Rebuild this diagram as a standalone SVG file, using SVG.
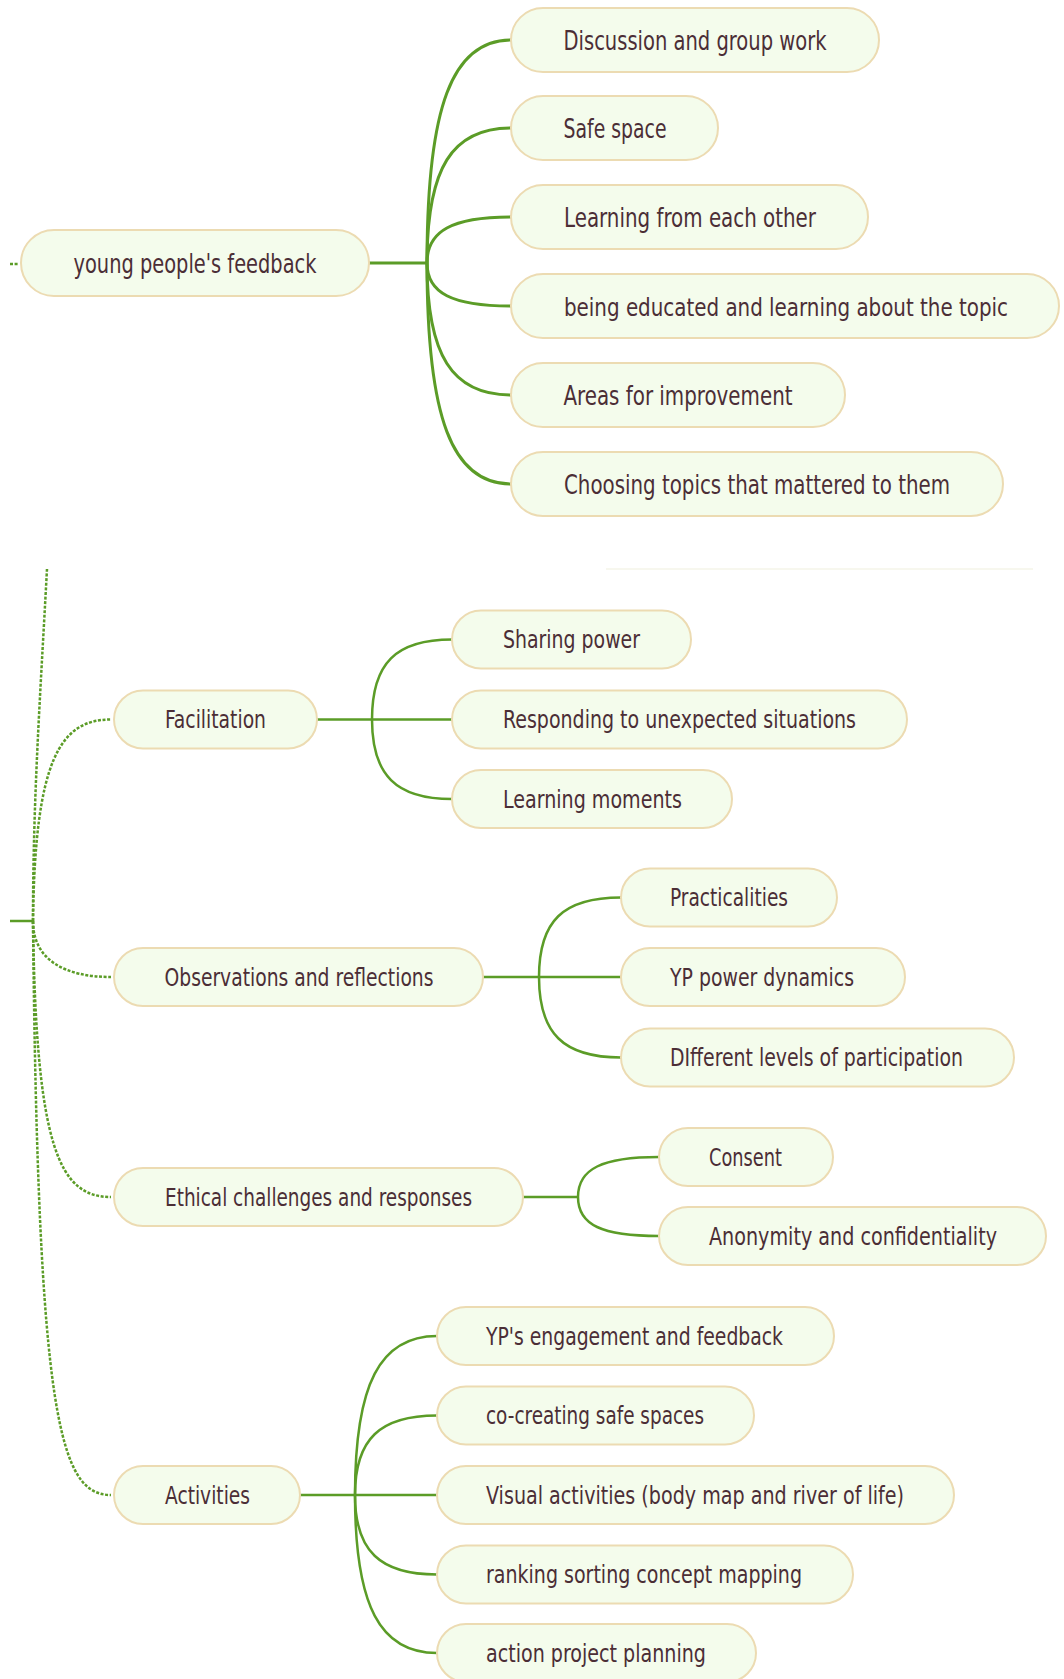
<svg xmlns="http://www.w3.org/2000/svg" width="1064" height="1679" viewBox="0 0 1064 1679">
<style>
.box{fill:#f4fcec;stroke:#ecdbb2;stroke-width:2}
.t1{font-family:"Liberation Sans Narrow","DejaVu Sans Condensed","Roboto Condensed",sans-serif;font-size:27px;fill:#4b2e36;text-anchor:middle}
.t2{font-family:"Liberation Sans Narrow","DejaVu Sans Condensed","Roboto Condensed",sans-serif;font-size:25px;fill:#4b2e36;text-anchor:middle}
.c1{fill:none;stroke:#5b9c27;stroke-width:3}
.c2{fill:none;stroke:#5b9c27;stroke-width:2.5}
.d{fill:none;stroke:#5b9c27;stroke-width:2.5;stroke-dasharray:3 1.6}
</style>
<rect width="1064" height="1679" fill="#ffffff"/>
<line x1="606" y1="569" x2="1033" y2="569" stroke="#f5f5e8" stroke-width="1.5"/>
<g id="connectors">
  <path class="d" d="M10,264 H18"/>
  <path class="c1" d="M369,263 H427"/>
  <path class="c1" d="M427,263 C427,107 452,40 511,40"/>
  <path class="c1" d="M427,263 C427,168 452,128 511,128"/>
  <path class="c1" d="M427,263 C427,231 452,217 511,217"/>
  <path class="c1" d="M427,263 C427,293 452,306 511,306"/>
  <path class="c1" d="M427,263 C427,355 452,395 511,395"/>
  <path class="c1" d="M427,263 C427,418 452,484 511,484"/>

  <path class="c2" d="M10,921 H33"/>
  <path class="d" d="M33,921 C33,800 40,700 47,569"/>
  <path class="d" d="M33,921 C35,760 60,719.5 111,719.5"/>
  <path class="d" d="M33,921 C33,960 65,977 111,977"/>
  <path class="d" d="M33,921 C36,1150 60,1197 111,1197"/>
  <path class="d" d="M33,921 C38,1420 60,1495 111,1495"/>

  <path class="c2" d="M317,719.5 H452"/>
  <path class="c2" d="M372,719.5 C372,663 396,639.5 452,639.5"/>
  <path class="c2" d="M372,719.5 C372,775 396,799 452,799"/>

  <path class="c2" d="M483,977 H621"/>
  <path class="c2" d="M539,977 C539,921 563,897.5 621,897.5"/>
  <path class="c2" d="M539,977 C539,1033 563,1057.5 621,1057.5"/>

  <path class="c2" d="M523,1197 H578"/>
  <path class="c2" d="M578,1197 C578,1169 602,1157 659,1157"/>
  <path class="c2" d="M578,1197 C578,1225 602,1236 659,1236"/>

  <path class="c2" d="M300,1495 H437"/>
  <path class="c2" d="M355,1495 C355,1384 380,1336 437,1336"/>
  <path class="c2" d="M355,1495 C355,1439 380,1415.5 437,1415.5"/>
  <path class="c2" d="M355,1495 C355,1551 380,1574.5 437,1574.5"/>
  <path class="c2" d="M355,1495 C355,1606 380,1653 437,1653"/>
</g>

<g id="n-root"><rect class="box" x="21" y="230" width="348" height="66" rx="33"/><text class="t1" x="195" y="273" textLength="243" lengthAdjust="spacingAndGlyphs">young people's feedback</text></g>
<g id="n-discussion"><rect class="box" x="511" y="8" width="368" height="64" rx="32"/><text class="t1" x="695" y="50" textLength="263" lengthAdjust="spacingAndGlyphs">Discussion and group work</text></g>
<g id="n-safe"><rect class="box" x="511" y="96" width="207" height="64" rx="32"/><text class="t1" x="615" y="138" textLength="103" lengthAdjust="spacingAndGlyphs">Safe space</text></g>
<g id="n-learning"><rect class="box" x="511" y="185" width="357" height="64" rx="32"/><text class="t1" x="690" y="227" textLength="252" lengthAdjust="spacingAndGlyphs">Learning from each other</text></g>
<g id="n-educated"><rect class="box" x="511" y="274" width="548" height="64" rx="32"/><text class="t1" x="786" y="315.5" textLength="444" lengthAdjust="spacingAndGlyphs" style="font-size:25px">being educated and learning about the topic</text></g>
<g id="n-areas"><rect class="box" x="511" y="363" width="334" height="64" rx="32"/><text class="t1" x="678" y="405" textLength="229" lengthAdjust="spacingAndGlyphs">Areas for improvement</text></g>
<g id="n-choosing"><rect class="box" x="511" y="452" width="492" height="64" rx="32"/><text class="t1" x="757" y="494" textLength="386" lengthAdjust="spacingAndGlyphs">Choosing topics that mattered to them</text></g>

<g id="n-facilitation"><rect class="box" x="114" y="690.5" width="203" height="58" rx="29"/><text class="t2" x="215.5" y="728" textLength="101" lengthAdjust="spacingAndGlyphs">Facilitation</text></g>
<g id="n-observations"><rect class="box" x="114" y="948" width="369" height="58" rx="29"/><text class="t2" x="299" y="985.5" textLength="269" lengthAdjust="spacingAndGlyphs">Observations and reflections</text></g>
<g id="n-ethical"><rect class="box" x="114" y="1168" width="409" height="58" rx="29"/><text class="t2" x="318.5" y="1205.5" textLength="307" lengthAdjust="spacingAndGlyphs">Ethical challenges and responses</text></g>
<g id="n-activities"><rect class="box" x="114" y="1466" width="186" height="58" rx="29"/><text class="t2" x="207.5" y="1503.5" textLength="85" lengthAdjust="spacingAndGlyphs">Activities</text></g>

<g id="n-sharing"><rect class="box" x="452" y="610.5" width="239" height="58" rx="29"/><text class="t2" x="571.5" y="648" textLength="137" lengthAdjust="spacingAndGlyphs">Sharing power</text></g>
<g id="n-responding"><rect class="box" x="452" y="690.5" width="455" height="58" rx="29"/><text class="t2" x="679.5" y="728" textLength="353" lengthAdjust="spacingAndGlyphs">Responding to unexpected situations</text></g>
<g id="n-moments"><rect class="box" x="452" y="770" width="280" height="58" rx="29"/><text class="t2" x="592.5" y="807.5" textLength="179" lengthAdjust="spacingAndGlyphs">Learning moments</text></g>

<g id="n-practicalities"><rect class="box" x="621" y="868.5" width="216" height="58" rx="29"/><text class="t2" x="729" y="906" textLength="118" lengthAdjust="spacingAndGlyphs">Practicalities</text></g>
<g id="n-power"><rect class="box" x="621" y="948" width="284" height="58" rx="29"/><text class="t2" x="762" y="985.5" textLength="184" lengthAdjust="spacingAndGlyphs">YP power dynamics</text></g>
<g id="n-levels"><rect class="box" x="621" y="1028.5" width="393" height="58" rx="29"/><text class="t2" x="816.5" y="1066" textLength="293" lengthAdjust="spacingAndGlyphs">DIfferent levels of participation</text></g>

<g id="n-consent"><rect class="box" x="659" y="1128" width="174" height="58" rx="29"/><text class="t2" x="745.5" y="1165.5" textLength="73" lengthAdjust="spacingAndGlyphs">Consent</text></g>
<g id="n-anonymity"><rect class="box" x="659" y="1207" width="387" height="58" rx="29"/><text class="t2" x="853" y="1244.5" textLength="288" lengthAdjust="spacingAndGlyphs">Anonymity and confidentiality</text></g>

<g id="n-engagement"><rect class="box" x="437" y="1307" width="397" height="58" rx="29"/><text class="t2" x="634.5" y="1344.5" textLength="297" lengthAdjust="spacingAndGlyphs">YP's engagement and feedback</text></g>
<g id="n-cocreating"><rect class="box" x="437" y="1386.5" width="317" height="58" rx="29"/><text class="t2" x="595" y="1424" textLength="218" lengthAdjust="spacingAndGlyphs">co-creating safe spaces</text></g>
<g id="n-visual"><rect class="box" x="437" y="1466" width="517" height="58" rx="29"/><text class="t2" x="695" y="1503.5" textLength="418" lengthAdjust="spacingAndGlyphs">Visual activities (body map and river of life)</text></g>
<g id="n-ranking"><rect class="box" x="437" y="1545.5" width="416" height="58" rx="29"/><text class="t2" x="644" y="1583" textLength="316" lengthAdjust="spacingAndGlyphs">ranking sorting concept mapping</text></g>
<g id="n-action"><rect class="box" x="437" y="1624" width="319" height="58" rx="29"/><text class="t2" x="596" y="1661.5" textLength="220" lengthAdjust="spacingAndGlyphs">action project planning</text></g>
</svg>
